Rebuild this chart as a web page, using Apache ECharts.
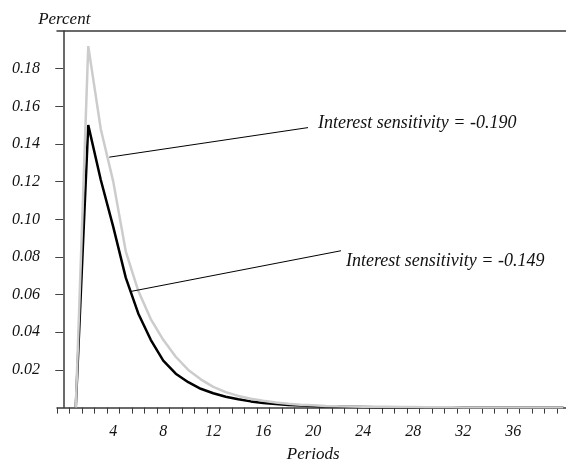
<!DOCTYPE html>
<html>
<head>
<meta charset="utf-8">
<script src="https://cdn.jsdelivr.net/npm/echarts@6/dist/echarts.min.js"></script>
<style>
html,body{margin:0;padding:0;background:#fff;}
#chart{width:566px;height:462px;}
</style>
</head>
<body>
<div id="chart"></div>
<script>
// Periods (category axis)
var periods = ['0','1','2','3','4','5','6','7','8','9','10','11','12','13','14','15','16','17','18','19','20',
  '21','22','23','24','25','26','27','28','29','30','31','32','33','34','35','36','37','38','39','40'];

// Response with interest sensitivity = -0.149 (black)
var lowSens = [null, 0, 0.150, 0.121, 0.096, 0.069, 0.050, 0.036, 0.025, 0.018, 0.0135,
  0.0100, 0.0076, 0.0058, 0.0044, 0.0033, 0.0025, 0.0019, 0.0014, 0.0011, 0.0008,
  0.0006, 0.0005, 0.0004, 0.0003, 0.0002, 0.0002, 0.0001, 0.0001, 0.0001, 0.0001,
  0, 0, 0, 0, 0, 0, 0, 0, 0, 0];

// Response with interest sensitivity = -0.190 (grey)
var highSens = [null, 0, 0.192, 0.148, 0.120, 0.083, 0.062, 0.047, 0.036, 0.027, 0.020,
  0.015, 0.011, 0.0082, 0.0062, 0.0047, 0.0036, 0.0027, 0.0020, 0.0015, 0.0012,
  0.0009, 0.0007, 0.0006, 0.0005, 0.0004, 0.0004, 0.0003, 0.0003, 0.0002, 0.0002,
  0.0002, 0.0001, 0.0001, 0.0001, 0, 0, 0, 0, 0, 0];

// Y tick labels
var yTicks = [0.02, 0.04, 0.06, 0.08, 0.10, 0.12, 0.14, 0.16, 0.18];

// Annotation leader lines (period, value) from curve to label
var noteHigh = [[3.68, 0.133], [19.58, 0.1487]];
var noteLow = [[5.42, 0.0617], [22.22, 0.0833]];
var noteHighText = 'Interest sensitivity = -0.190';
var noteLowText = 'Interest sensitivity = -0.149';

var FONT = '"Liberation Serif", "Times New Roman", serif';
var chart = echarts.init(document.getElementById('chart'), null, {renderer: 'canvas'});

chart.setOption({
  animation: false,
  backgroundColor: '#fff',
  grid: {left: 57, top: 31, width: 512.5, height: 376.6, outerBoundsMode: 'none', containLabel: false},
  xAxis: [{
    type: 'category',
    data: periods,
    boundaryGap: true,
    position: 'bottom',
    axisLine: {show: true, lineStyle: {color: '#3a3a3a', width: 1.5}},
    axisTick: {show: true, interval: 0, alignWithLabel: false, length: 6, lineStyle: {color: '#3a3a3a', width: 1}},
    axisLabel: {
      interval: function (idx, val) { var n = Number(val); return n % 4 === 0 && n > 0 && n < 40; },
      margin: 16, color: '#111', fontFamily: FONT, fontStyle: 'italic', fontSize: 16
    },
    splitLine: {show: false},
    name: 'Periods', nameLocation: 'middle', nameGap: 38,
    nameTextStyle: {color: '#111', fontFamily: FONT, fontStyle: 'italic', fontSize: 17}
  }, {
    type: 'value',
    min: -0.5, max: 40.5,
    position: 'top',
    axisLine: {show: true, onZero: false, lineStyle: {color: '#3a3a3a', width: 1.5}},
    axisTick: {show: false},
    axisLabel: {show: false},
    splitLine: {show: false}
  }],
  yAxis: {
    type: 'value',
    min: 0, max: 0.2, interval: 0.02,
    axisLine: {show: true, lineStyle: {color: '#3a3a3a', width: 1.5}},
    axisTick: {show: true, length: 8, customValues: yTicks, lineStyle: {color: '#444', width: 1}},
    axisLabel: {
      customValues: yTicks,
      formatter: function (v) { return v.toFixed(2); },
      margin: 17, color: '#111', fontFamily: FONT, fontStyle: 'italic', fontSize: 16
    },
    splitLine: {show: false},
    name: 'Percent', nameLocation: 'end', nameGap: 3,
    nameTextStyle: {color: '#111', fontFamily: FONT, fontStyle: 'italic', fontSize: 17, align: 'center', padding: [0, 0, 0, 2]}
  },
  series: [{
    name: 'Interest sensitivity = -0.149',
    type: 'line',
    data: lowSens,
    showSymbol: false, symbol: 'none',
    lineStyle: {color: '#000', width: 2.5},
    silent: true, z: 3
  }, {
    name: 'Interest sensitivity = -0.190',
    type: 'line',
    data: highSens,
    showSymbol: false, symbol: 'none',
    lineStyle: {color: '#cccccc', width: 2.5},
    silent: true, z: 4
  }, {
    type: 'line',
    xAxisIndex: 1,
    data: noteHigh,
    symbol: 'none',
    lineStyle: {color: '#000', width: 1},
    silent: true, z: 5,
    endLabel: {show: true, formatter: noteHighText, distance: 10, offset: [0, -4],
      color: '#111', fontFamily: FONT, fontStyle: 'italic', fontSize: 18}
  }, {
    type: 'line',
    xAxisIndex: 1,
    data: noteLow,
    symbol: 'none',
    lineStyle: {color: '#000', width: 1},
    silent: true, z: 5,
    endLabel: {show: true, formatter: noteLowText, distance: 5, offset: [0, 11],
      color: '#111', fontFamily: FONT, fontStyle: 'italic', fontSize: 18}
  }]
});
</script>
</body>
</html>
